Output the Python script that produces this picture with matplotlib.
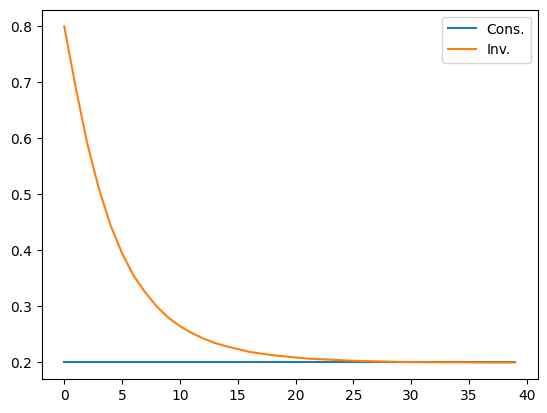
import numpy as np
import matplotlib
matplotlib.use("Agg")
import matplotlib.pyplot as plt

steps = np.arange(40)
cons = [0.2] * 40
inv = [0.800, 0.690, 0.590, 0.510, 0.445, 0.395, 0.355, 0.325, 0.300, 0.280,
       0.265, 0.253, 0.243, 0.235, 0.229, 0.224, 0.219, 0.216, 0.213, 0.211,
       0.209, 0.207, 0.206, 0.205, 0.204, 0.203, 0.2025, 0.202, 0.2015, 0.201,
       0.2007, 0.2005, 0.2004, 0.2003, 0.2002, 0.2001, 0.2001, 0.2, 0.2, 0.2]

fig, ax = plt.subplots(figsize=(6.4, 4.8))
ax.plot(steps, cons, label='Cons.')
ax.plot(steps, inv, label='Inv.')
ax.legend()
fig.savefig('out.png', bbox_inches='tight')
